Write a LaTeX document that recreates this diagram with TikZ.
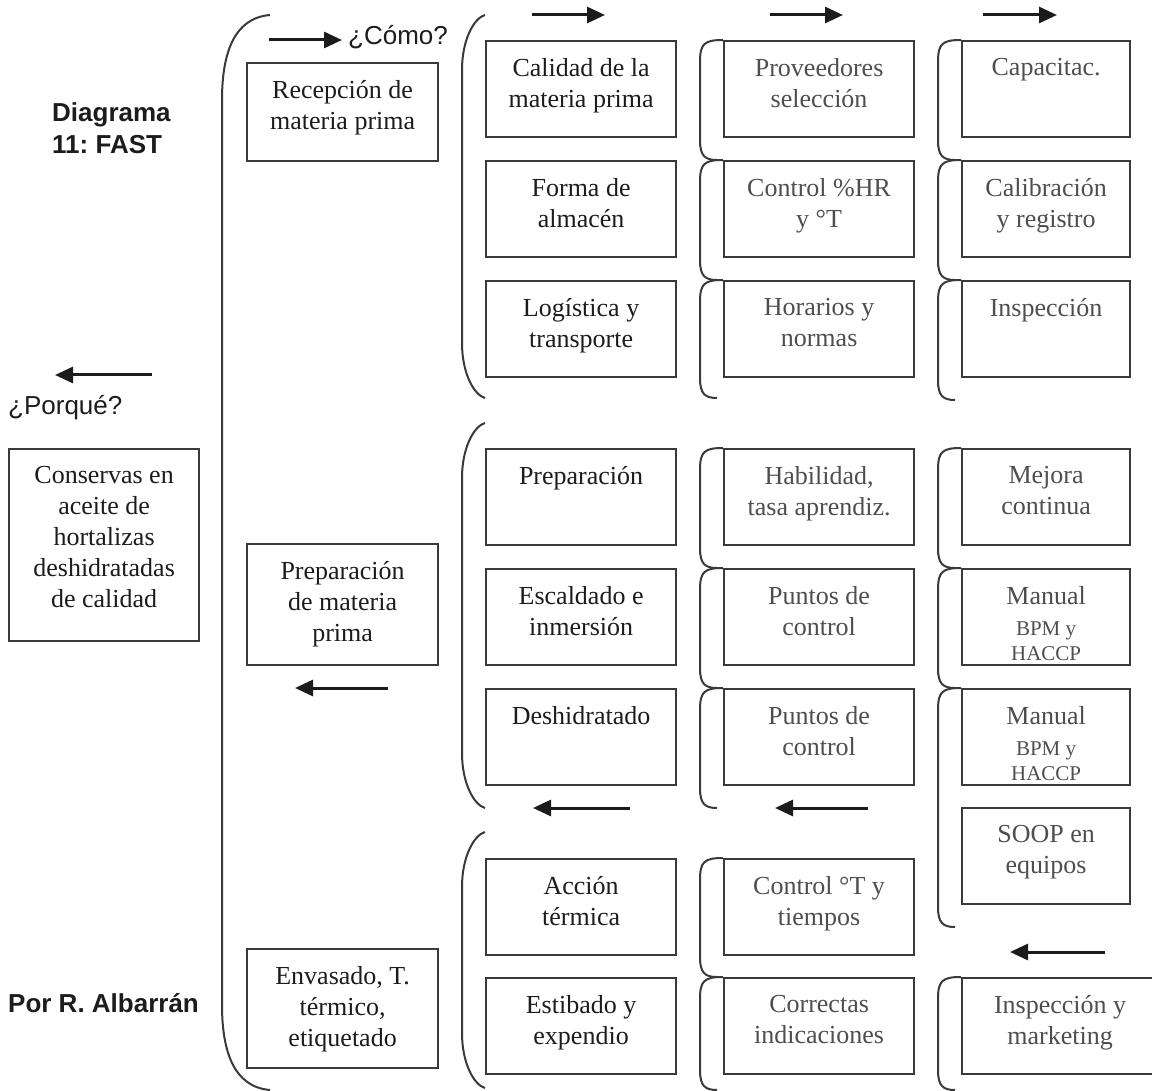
\documentclass[tikz,border=0pt]{standalone}
\usepackage{fontspec}
\setmainfont{Liberation Serif}
\newfontfamily\sans{Liberation Sans}
\usetikzlibrary{arrows.meta}
\frenchspacing

\definecolor{borde}{HTML}{3A3A3A}
\definecolor{tinta}{HTML}{1C1C1C}
\definecolor{gris}{HTML}{4E4E4E}

\tikzset{
  caja/.style={draw=borde, line width=2.2pt, anchor=north west, inner sep=0pt},
  texto/.style={anchor=north, inner sep=0pt, align=center, text=tinta,
    font=\fontsize{26}{31}\selectfont},
  tenue/.style={texto, text=gris},
  corchete/.style={draw=borde, line width=2pt},
  flecha/.style={draw=tinta, line width=3pt, -{Triangle[length=18pt,width=16pt]}},
  rotulo/.style={inner sep=0pt, text=tinta, font=\sans\fontsize{26}{34}\selectfont},
}

% caja con texto arriba: [estilo]{nombre}{x}{y}{ancho}{alto}{texto}
\newcommand{\caja}[7][texto]{
  \node[caja, minimum width=#5, minimum height=#6] (#2) at (#3,#4) {};
  \node[#1] (#2t) at ([yshift=-18pt]#2.north) {#7};
}
% parentesis grande: x, x final, y arriba, y abajo, largo de la curva
\newcommand{\parentesis}[5]{
  \draw[corchete] (#2,#3) .. controls (#1+12,#3+3) and (#1,#3+#5*0.45) .. (#1,#3+#5)
    -- (#1,#4-#5) .. controls (#1,#4-#5*0.45) and (#1+12,#4-3) .. (#2,#4);
}
% llave chica al lado de cada caja: x de la caja, y arriba, y abajo
\newcommand{\llave}[3]{
  \draw[corchete] (#1,#2) .. controls (#1-19,#2) and (#1-23,#2+4) .. (#1-23,#2+22)
    -- (#1-23,#3-20) .. controls (#1-23,#3-4) and (#1-18,#3) .. (#1-6,#3);
}
\newcommand{\chico}{\fontsize{21}{25}\selectfont}

\begin{document}
\begin{tikzpicture}[x=1pt, y=-1pt]
  \useasboundingbox (0,0) rectangle (1152,1091);

  % TITULOS
  % =======
  \node[rotulo, anchor=north west, align=left] (titulo) at (52,102.5)
    {\bfseries Diagrama\\[-2pt]\bfseries 11: FAST};
  \node[rotulo, anchor=base west] (porque) at (8,414) {¿Porqué?};
  \node[rotulo, anchor=base west] (como) at (348,45) {¿Cómo?};
  \node[rotulo, anchor=base west] (autor) at (8,1012) {\bfseries Por R. Albarrán};

  % Flechas
  % -------
  \draw[flecha] (269,40) -- (342,40);
  \foreach \a/\b in {532/605, 770/843, 983/1057}
  \draw[flecha] (\a,15) -- (\b,15);
  \foreach \a/\b/\y in {152/55/375, 388/295/688, 630/533/808, 868/775/808, 1105/1010/952}
  \draw[flecha] (\a,\y) -- (\b,\y);

  % Parentesis
  % ----------
  \parentesis{222}{270}{15}{1090}{85}
  \foreach \a/\b in {15/398, 423/808, 832/1088}{
    \parentesis{462}{485}{\a}{\b}{55}
  }

  \foreach \a/\b in {40/160, 160/280, 280/398, 448/568, 568/688, 688/808, 858/977, 977/1090}{
    \llave{723}{\a}{\b}
  }
  \foreach \a/\b in {40/160, 160/280, 280/400, 448/568, 568/688, 688/927, 977/1090}{
    \llave{961}{\a}{\b}
  }

  % FUNCION BASICA
  % ==============
  \caja{conservas}{8}{448}{190}{192}{Conservas en\\aceite de\\hortalizas\\deshidratadas\\de calidad}

  % Procesos
  % --------
  \caja{recepcion}{246}{62}{191}{98}{Recepción de\\materia prima}
  \caja{prepmp}{246}{543}{191}{121}{Preparación\\de materia\\prima}
  \caja{envasado}{246}{948}{191}{119}{Envasado, T.\\térmico,\\etiquetado}

  % Como se logra
  % -------------
  \caja{calidad}{485}{40}{190}{96}{Calidad de la\\materia prima}
  \caja{forma}{485}{160}{190}{96}{Forma de\\almacén}
  \caja{logistica}{485}{280}{190}{96}{Logística y\\transporte}
  \caja{preparacion}{485}{448}{190}{96}{Preparación}
  \caja{escaldado}{485}{568}{190}{96}{Escaldado e\\inmersión}
  \caja{deshidratado}{485}{688}{190}{96}{Deshidratado}
  \caja{accion}{485}{858}{190}{96}{Acción\\térmica}
  \caja{estibado}{485}{977}{190}{96}{Estibado y\\expendio}

  % Controles
  % ---------
  \caja[tenue]{proveedores}{723}{40}{190}{96}{Proveedores\\selección}
  \caja[tenue]{controlhr}{723}{160}{190}{96}{Control \%HR\\y °T}
  \caja[tenue]{horarios}{723}{280}{190}{96}{Horarios y\\normas}
  \caja[tenue]{habilidad}{723}{448}{190}{96}{Habilidad,\\tasa aprendiz.}
  \caja[tenue]{puntosa}{723}{568}{190}{96}{Puntos de\\control}
  \caja[tenue]{puntosb}{723}{688}{190}{96}{Puntos de\\control}
  \caja[tenue]{controlt}{723}{858}{190}{96}{Control °T y\\tiempos}
  \caja[tenue]{correctas}{723}{977}{190}{96}{Correctas\\indicaciones}

  % Soporte
  % -------
  \caja[tenue]{capacitac}{961}{40}{168}{96}{Capacitac.}
  \caja[tenue]{calibracion}{961}{160}{168}{96}{Calibración\\y registro}
  \caja[tenue]{inspeccion}{961}{280}{168}{96}{Inspección}
  \caja[tenue]{mejora}{961}{448}{168}{96}{Mejora\\continua}
  \caja[tenue]{manuala}{961}{568}{168}{96}{Manual\\{\chico BPM y}\\[-6pt]{\chico HACCP}}
  \caja[tenue]{manualb}{961}{688}{168}{96}{Manual\\{\chico BPM y}\\[-6pt]{\chico HACCP}}
  \caja[tenue]{soop}{961}{807}{168}{96}{SOOP en\\equipos}
  \caja[tenue]{marketing}{961}{977}{196}{96}{Inspección y\\marketing}

\end{tikzpicture}
\end{document}
